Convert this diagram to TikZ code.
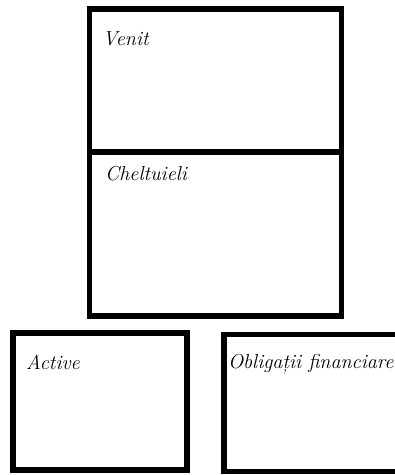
\documentclass[tikz,border=0pt]{standalone}
\usepackage{fontspec}
\usetikzlibrary{positioning}

\tikzset{
  cont/.style={draw, line width=5.5pt, inner sep=0pt, outer sep=0pt},
  eticheta/.style={anchor=base west, inner sep=0pt, font=\fontsize{20.2}{22}\selectfont\itshape}
}

\begin{document}
\begin{tikzpicture}[x=1pt, y=1pt]
  \useasboundingbox (0, 0) rectangle (395, -475);
  \clip (0, 0) rectangle (395, -475);

  \node[cont, minimum width=252pt, minimum height=143pt] (venit)  at (215.5, -80.5) {};
  \node[cont, minimum width=252pt, minimum height=164pt] (chelt)  at (215.5, -234) {};
  \node[cont, minimum width=174pt, minimum height=137pt] (active) at (100, -401.5) {};
  \node[cont, minimum width=176pt, minimum height=137pt] (oblig)  at (312, -403) {};

  \node[eticheta] (tvenit)  at ([shift={(13, -36)}]venit.north west)   {Venit};
  \node[eticheta] (tchelt)  at ([shift={(15.5, -28)}]chelt.north west) {Cheltuieli};
  \node[eticheta] (tactive) at ([shift={(13, -36)}]active.north west)  {Active};
  \node[eticheta] (toblig)  at ([shift={(3.8, -33.5)}]oblig.north west) {Obligații financiare};
\end{tikzpicture}
\end{document}
